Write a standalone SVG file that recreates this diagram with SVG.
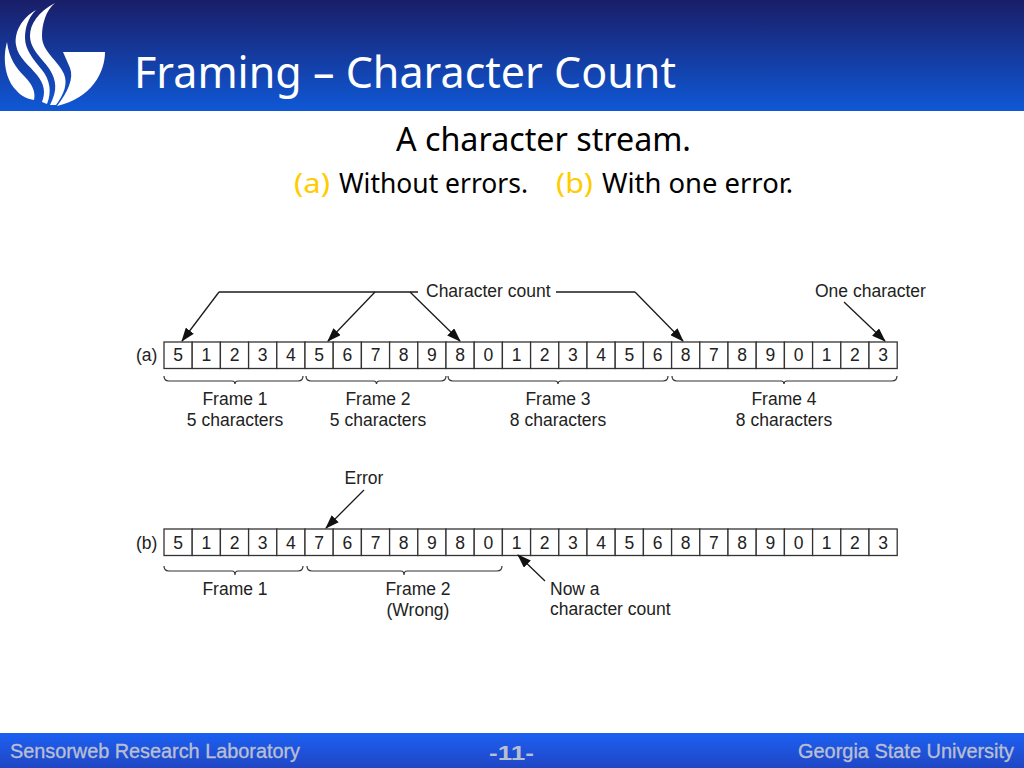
<svg xmlns="http://www.w3.org/2000/svg" width="1024" height="768" viewBox="0 0 1024 768">
<style>
.cell{fill:#fff;stroke:#333;stroke-width:1.3}
.d{font:17.5px "Liberation Sans",Arial,sans-serif;fill:#222;text-anchor:middle}
.l{font:17.5px "Liberation Sans",Arial,sans-serif;fill:#222}
.conn{fill:none;stroke:#1a1a1a;stroke-width:1.3}
.arr{marker-end:url(#ah)}
.brace{fill:none;stroke:#333;stroke-width:1.2}
.foot{font:20px "Liberation Sans",Arial,sans-serif;fill:#b9bfd2;stroke:#b9bfd2;stroke-width:.35}
.big{font:bold 20px "Liberation Sans",Arial,sans-serif;fill:#b9bfd2}
.sub{font-family:"Noto Sans","Open Sans",sans-serif;fill:#000}
</style>
<defs>
<linearGradient id="hg" x1="0" y1="0" x2="0" y2="1"><stop offset="0" stop-color="#1a1e68"/><stop offset="1" stop-color="#0f58d6"/></linearGradient>
<linearGradient id="fg" x1="0" y1="0" x2="0" y2="1"><stop offset="0" stop-color="#1c60f2"/><stop offset="1" stop-color="#2046c4"/></linearGradient>
<marker id="ah" markerUnits="userSpaceOnUse" markerWidth="14" markerHeight="10" refX="13" refY="5" orient="auto"><path d="M0 0L14 5L0 10Z" fill="#111"/></marker>
</defs>
<rect width="1024" height="768" fill="#fff"/>
<g id="header">
<rect width="1024" height="111" fill="url(#hg)"/>
<g id="logo" fill="#fff">
<path d="M63 52H105C105 72 92 98 57 106C68 92 74 78 70 68Z"/>
<path d="M55 3C38 12 30 24 30 36C30 50 44 60 50 70C56 80 58 90 50 105L56 105C64 94 68 84 64 74C58 60 42 52 42 36C42 24 46 10 55 3Z"/>
<path d="M36 10C22 18 14 32 16 45C18 58 30 66 37 75C44 84 46 92 42 102L47 104C52 92 50 80 42 70C34 60 25 50 25 38C25 28 28 18 36 10Z"/>
<path d="M7 42C2 60 6 80 16 90C22 97 28 99 34 100C36 92 32 84 25 77C16 68 9 58 7 42Z"/>
</g>
<text id="title" x="134" y="88" font-family="'Noto Sans','Open Sans',sans-serif" font-size="44" fill="#fff" textLength="542" lengthAdjust="spacingAndGlyphs">Framing – Character Count</text>
</g>
<g id="subtitle">
<text class="sub" x="396" y="151" font-size="32" textLength="295" lengthAdjust="spacingAndGlyphs">A character stream.</text>
<text class="sub" x="294" y="193" font-size="27" fill="#ffcc00" textLength="36" lengthAdjust="spacingAndGlyphs" style="fill:#ffcc00">(a)</text>
<text class="sub" x="339" y="193" font-size="27" textLength="189" lengthAdjust="spacingAndGlyphs">Without errors.</text>
<text class="sub" x="556" y="193" font-size="27" textLength="37" lengthAdjust="spacingAndGlyphs" style="fill:#ffcc00">(b)</text>
<text class="sub" x="602" y="193" font-size="27" textLength="191" lengthAdjust="spacingAndGlyphs">With one error.</text>
</g>
<g id="row-a">
<text class="l" x="136" y="361">(a)</text>
<g id="a0"><rect class="cell" x="164" y="342" width="28.2" height="26.5"/><text class="d" x="178" y="361">5</text></g>
<g id="a1"><rect class="cell" x="192.2" y="342" width="28.2" height="26.5"/><text class="d" x="206.3" y="361">1</text></g>
<g id="a2"><rect class="cell" x="220.4" y="342" width="28.2" height="26.5"/><text class="d" x="234.5" y="361">2</text></g>
<g id="a3"><rect class="cell" x="248.6" y="342" width="28.2" height="26.5"/><text class="d" x="262.7" y="361">3</text></g>
<g id="a4"><rect class="cell" x="276.8" y="342" width="28.2" height="26.5"/><text class="d" x="290.9" y="361">4</text></g>
<g id="a5"><rect class="cell" x="305" y="342" width="28.2" height="26.5"/><text class="d" x="319.1" y="361">5</text></g>
<g id="a6"><rect class="cell" x="333.2" y="342" width="28.2" height="26.5"/><text class="d" x="347.3" y="361">6</text></g>
<g id="a7"><rect class="cell" x="361.4" y="342" width="28.2" height="26.5"/><text class="d" x="375.5" y="361">7</text></g>
<g id="a8"><rect class="cell" x="389.6" y="342" width="28.2" height="26.5"/><text class="d" x="403.7" y="361">8</text></g>
<g id="a9"><rect class="cell" x="417.8" y="342" width="28.2" height="26.5"/><text class="d" x="431.9" y="361">9</text></g>
<g id="a10"><rect class="cell" x="446" y="342" width="28.2" height="26.5"/><text class="d" x="460.1" y="361">8</text></g>
<g id="a11"><rect class="cell" x="474.2" y="342" width="28.2" height="26.5"/><text class="d" x="488.3" y="361">0</text></g>
<g id="a12"><rect class="cell" x="502.4" y="342" width="28.2" height="26.5"/><text class="d" x="516.5" y="361">1</text></g>
<g id="a13"><rect class="cell" x="530.6" y="342" width="28.2" height="26.5"/><text class="d" x="544.7" y="361">2</text></g>
<g id="a14"><rect class="cell" x="558.8" y="342" width="28.2" height="26.5"/><text class="d" x="572.9" y="361">3</text></g>
<g id="a15"><rect class="cell" x="587" y="342" width="28.2" height="26.5"/><text class="d" x="601.1" y="361">4</text></g>
<g id="a16"><rect class="cell" x="615.2" y="342" width="28.2" height="26.5"/><text class="d" x="629.3" y="361">5</text></g>
<g id="a17"><rect class="cell" x="643.4" y="342" width="28.2" height="26.5"/><text class="d" x="657.5" y="361">6</text></g>
<g id="a18"><rect class="cell" x="671.6" y="342" width="28.2" height="26.5"/><text class="d" x="685.7" y="361">8</text></g>
<g id="a19"><rect class="cell" x="699.8" y="342" width="28.2" height="26.5"/><text class="d" x="713.9" y="361">7</text></g>
<g id="a20"><rect class="cell" x="728" y="342" width="28.2" height="26.5"/><text class="d" x="742.1" y="361">8</text></g>
<g id="a21"><rect class="cell" x="756.2" y="342" width="28.2" height="26.5"/><text class="d" x="770.3" y="361">9</text></g>
<g id="a22"><rect class="cell" x="784.4" y="342" width="28.2" height="26.5"/><text class="d" x="798.5" y="361">0</text></g>
<g id="a23"><rect class="cell" x="812.6" y="342" width="28.2" height="26.5"/><text class="d" x="826.7" y="361">1</text></g>
<g id="a24"><rect class="cell" x="840.8" y="342" width="28.2" height="26.5"/><text class="d" x="854.9" y="361">2</text></g>
<g id="a25"><rect class="cell" x="869" y="342" width="28.2" height="26.5"/><text class="d" x="883.1" y="361">3</text></g>
</g>
<g id="row-b">
<text class="l" x="136" y="549">(b)</text>
<g id="b0"><rect class="cell" x="164" y="529" width="28.2" height="26.5"/><text class="d" x="178" y="549">5</text></g>
<g id="b1"><rect class="cell" x="192.2" y="529" width="28.2" height="26.5"/><text class="d" x="206.3" y="549">1</text></g>
<g id="b2"><rect class="cell" x="220.4" y="529" width="28.2" height="26.5"/><text class="d" x="234.5" y="549">2</text></g>
<g id="b3"><rect class="cell" x="248.6" y="529" width="28.2" height="26.5"/><text class="d" x="262.7" y="549">3</text></g>
<g id="b4"><rect class="cell" x="276.8" y="529" width="28.2" height="26.5"/><text class="d" x="290.9" y="549">4</text></g>
<g id="b5"><rect class="cell" x="305" y="529" width="28.2" height="26.5"/><text class="d" x="319.1" y="549">7</text></g>
<g id="b6"><rect class="cell" x="333.2" y="529" width="28.2" height="26.5"/><text class="d" x="347.3" y="549">6</text></g>
<g id="b7"><rect class="cell" x="361.4" y="529" width="28.2" height="26.5"/><text class="d" x="375.5" y="549">7</text></g>
<g id="b8"><rect class="cell" x="389.6" y="529" width="28.2" height="26.5"/><text class="d" x="403.7" y="549">8</text></g>
<g id="b9"><rect class="cell" x="417.8" y="529" width="28.2" height="26.5"/><text class="d" x="431.9" y="549">9</text></g>
<g id="b10"><rect class="cell" x="446" y="529" width="28.2" height="26.5"/><text class="d" x="460.1" y="549">8</text></g>
<g id="b11"><rect class="cell" x="474.2" y="529" width="28.2" height="26.5"/><text class="d" x="488.3" y="549">0</text></g>
<g id="b12"><rect class="cell" x="502.4" y="529" width="28.2" height="26.5"/><text class="d" x="516.5" y="549">1</text></g>
<g id="b13"><rect class="cell" x="530.6" y="529" width="28.2" height="26.5"/><text class="d" x="544.7" y="549">2</text></g>
<g id="b14"><rect class="cell" x="558.8" y="529" width="28.2" height="26.5"/><text class="d" x="572.9" y="549">3</text></g>
<g id="b15"><rect class="cell" x="587" y="529" width="28.2" height="26.5"/><text class="d" x="601.1" y="549">4</text></g>
<g id="b16"><rect class="cell" x="615.2" y="529" width="28.2" height="26.5"/><text class="d" x="629.3" y="549">5</text></g>
<g id="b17"><rect class="cell" x="643.4" y="529" width="28.2" height="26.5"/><text class="d" x="657.5" y="549">6</text></g>
<g id="b18"><rect class="cell" x="671.6" y="529" width="28.2" height="26.5"/><text class="d" x="685.7" y="549">8</text></g>
<g id="b19"><rect class="cell" x="699.8" y="529" width="28.2" height="26.5"/><text class="d" x="713.9" y="549">7</text></g>
<g id="b20"><rect class="cell" x="728" y="529" width="28.2" height="26.5"/><text class="d" x="742.1" y="549">8</text></g>
<g id="b21"><rect class="cell" x="756.2" y="529" width="28.2" height="26.5"/><text class="d" x="770.3" y="549">9</text></g>
<g id="b22"><rect class="cell" x="784.4" y="529" width="28.2" height="26.5"/><text class="d" x="798.5" y="549">0</text></g>
<g id="b23"><rect class="cell" x="812.6" y="529" width="28.2" height="26.5"/><text class="d" x="826.7" y="549">1</text></g>
<g id="b24"><rect class="cell" x="840.8" y="529" width="28.2" height="26.5"/><text class="d" x="854.9" y="549">2</text></g>
<g id="b25"><rect class="cell" x="869" y="529" width="28.2" height="26.5"/><text class="d" x="883.1" y="549">3</text></g>
</g>
<g id="connectors">
<path class="conn" d="M418 292H219"/>
<path class="conn arr" d="M219 292L182 341"/>
<path class="conn arr" d="M375 292L328 341"/>
<path class="conn arr" d="M410 292L460 341"/>
<path class="conn" d="M556 292H635"/>
<path class="conn arr" d="M635 292L683 341"/>
<path class="conn arr" d="M844 302L885 341"/>
<path class="conn arr" d="M364 490L326 528"/>
<path class="conn arr" d="M545 581L518 555"/>
</g>
<g id="braces">
<path class="brace" d="M164 376Q164 381 169 381H232Q235 381 235 384Q235 381 238 381H298Q303 381 303 376"/>
<path class="brace" d="M306 376Q306 381 311 381H373.500Q376.500 381 376.500 384Q376.500 381 379.500 381H441Q446 381 446 376"/>
<path class="brace" d="M448 376Q448 381 453 381H555Q558 381 558 384Q558 381 561 381H663Q668 381 668 376"/>
<path class="brace" d="M672 376Q672 381 677 381H781Q784 381 784 384Q784 381 787 381H892Q897 381 897 376"/>
<path class="brace" d="M164 566Q164 571 169 571H232Q235 571 235 575Q235 571 238 571H298Q303 571 303 566"/>
<path class="brace" d="M307 566Q307 571 312 571H401Q404 571 404 575Q404 571 407 571H497Q502 571 502 566"/>
</g>
<g id="labels">
<text class="l" x="426" y="297">Character count</text>
<text class="l" x="815" y="297">One character</text>
<text class="d" x="235" y="405">Frame 1</text><text class="d" x="235" y="426">5 characters</text>
<text class="d" x="378" y="405">Frame 2</text><text class="d" x="378" y="426">5 characters</text>
<text class="d" x="558" y="405">Frame 3</text><text class="d" x="558" y="426">8 characters</text>
<text class="d" x="784" y="405">Frame 4</text><text class="d" x="784" y="426">8 characters</text>
<text class="d" x="364" y="484">Error</text>
<text class="d" x="235" y="595">Frame 1</text>
<text class="d" x="418" y="595">Frame 2</text><text class="d" x="418" y="616">(Wrong)</text>
<text class="l" x="550" y="595">Now a</text><text class="l" x="550" y="615">character count</text>
</g>
<g id="footer">
<rect y="733" width="1024" height="35" fill="url(#fg)"/>
<text class="foot" x="10" y="758" textLength="290" lengthAdjust="spacingAndGlyphs">Sensorweb Research Laboratory</text>
<text class="big" x="489" y="760" textLength="45" lengthAdjust="spacingAndGlyphs">-11-</text>
<text class="foot" x="798" y="758" textLength="216" lengthAdjust="spacingAndGlyphs">Georgia State University</text>
</g>
</svg>
